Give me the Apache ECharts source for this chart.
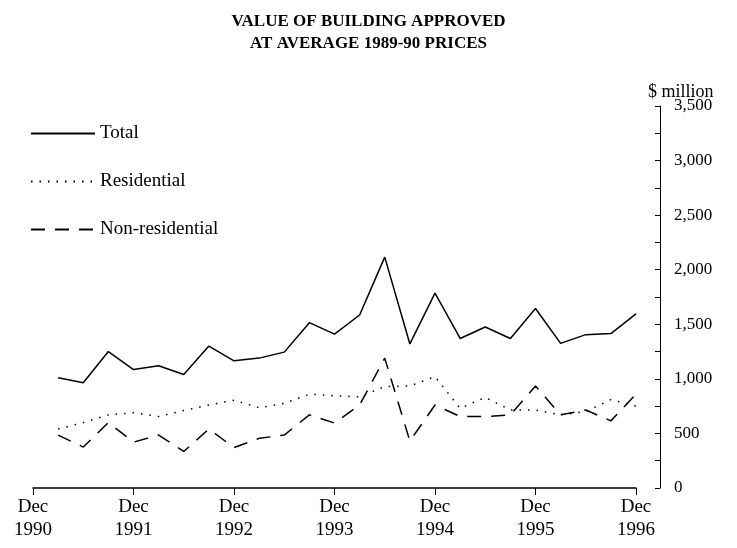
<!DOCTYPE html>
<html>
<head>
<meta charset="utf-8">
<script src="https://cdn.jsdelivr.net/npm/echarts@6/dist/echarts.min.js"></script>
<style>html,body{margin:0;padding:0;background:#fff}#c{width:737px;height:548px}</style>
</head>
<body>
<div id="c"></div>
<script>
const quarters = ['Dec 1990','Mar 1991','Jun 1991','Sep 1991','Dec 1991','Mar 1992','Jun 1992','Sep 1992','Dec 1992','Mar 1993','Jun 1993','Sep 1993','Dec 1993','Mar 1994','Jun 1994','Sep 1994','Dec 1994','Mar 1995','Jun 1995','Sep 1995','Dec 1995','Mar 1996','Jun 1996','Sep 1996','Dec 1996'];
const total = [null,1010,965,1250,1085,1120,1040,1300,1165,1190,1245,1515,1410,1585,2115,1320,1785,1370,1475,1370,1645,1325,1405,1415,1595];
const residential = [null,540,600,670,690,655,710,760,805,735,775,860,845,835,930,935,1020,730,830,715,715,670,700,810,750];
const nonResidential = [null,485,375,600,420,485,335,540,370,455,485,670,595,760,1190,430,760,655,655,670,935,670,715,615,860];
const yTicks = [0,500,1000,1500,2000,2500,3000,3500];

const serif = '"Liberation Serif", "DejaVu Serif", serif';
const chart = echarts.init(document.getElementById('c'), null, {renderer:'canvas'});
chart.setOption({
  backgroundColor:'#fff',
  animation:false,
  title:[
    {text:'VALUE OF BUILDING APPROVED\nAT AVERAGE 1989-90 PRICES', left:'center', top:6,
     textStyle:{fontFamily:serif, fontSize:17, fontWeight:'bold', color:'#000', lineHeight:22}},
    {text:'$ million', left:643, top:78, textStyle:{fontFamily:serif, fontSize:18, fontWeight:'normal', color:'#000'}}
  ],
  legend:{
    orient:'vertical', left:25, top:119, itemWidth:64, itemHeight:14, itemGap:29,
    itemStyle:{opacity:0},
    textStyle:{fontFamily:serif, fontSize:19, color:'#000'},
    data:['Total','Residential','Non-residential']
  },
  grid:{left:33, right:101, top:106, bottom:60},
  xAxis:{
    type:'category', data:quarters, boundaryGap:false,
    axisLine:{lineStyle:{color:'#000', width:1.5}},
    axisTick:{interval:3, length:7, lineStyle:{color:'#000'}},
    axisLabel:{interval:3, margin:8, fontFamily:serif, fontSize:19, color:'#000', lineHeight:23,
      formatter:v=>v.replace(' ','\n')},
    splitLine:{show:false}
  },
  yAxis:{
    type:'value', position:'right', offset:24, min:0, max:3500, interval:500,
    axisLine:{show:true, lineStyle:{color:'#000', width:1}},
    axisTick:{show:true, inside:true, length:5, lineStyle:{color:'#000'}},
    minorTick:{show:true, splitNumber:2, length:5, lineStyle:{color:'#000'}},
    axisLabel:{margin:14, fontFamily:serif, fontSize:17, color:'#000',
      formatter:v=>yTicks.includes(v)?v.toLocaleString('en-US'):''},
    splitLine:{show:false}
  },
  series:[
    {name:'Total', type:'line', data:total, symbol:'none', color:'#000',
     lineStyle:{color:'#000', width:1.5, type:'solid'}},
    {name:'Residential', type:'line', data:residential, symbol:'none', color:'#000',
     lineStyle:{color:'#000', width:1.5, type:[1.5,7]}},
    {name:'Non-residential', type:'line', data:nonResidential, symbol:'none', color:'#000',
     lineStyle:{color:'#000', width:1.5, type:[14,10]}}
  ]
});
</script>
</body>
</html>
